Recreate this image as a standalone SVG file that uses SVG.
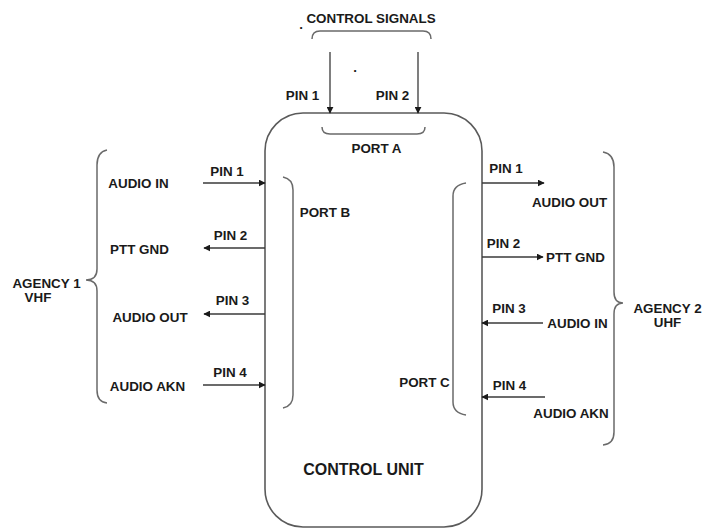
<svg xmlns="http://www.w3.org/2000/svg" width="703" height="530" viewBox="0 0 703 530">
<style>
text{font-family:"Liberation Sans",Arial,sans-serif;font-weight:bold;font-size:13.4px;fill:#1a1a1a;text-anchor:middle}
.big{font-size:16px}
.brace{fill:none;stroke:#6a6a6a;stroke-width:1.5}
.wire{fill:none;stroke:#3a3a3a;stroke-width:1.3;marker-end:url(#ah)}
.box{fill:#fff;stroke:#5a5a5a;stroke-width:1.6}
</style>
<defs>
<marker id="ah" viewBox="0 0 10 10" refX="9" refY="5" markerWidth="7" markerHeight="7" markerUnits="userSpaceOnUse" orient="auto">
<path d="M0,0 L10,5 L0,10 Z" fill="#1a1a1a"/>
</marker>
</defs>
<rect width="703" height="530" fill="#fff"/>

<g id="control-unit">
<rect class="box" x="265" y="113" width="217" height="414" rx="38" ry="38"/>
<text class="big" x="363.5" y="475">CONTROL UNIT</text>
</g>

<g id="port-a">
<path class="brace" d="M322,127 Q322,134 330,134 L417,134 Q425,134 425,127"/>
<text x="376.5" y="153">PORT A</text>
</g>

<g id="port-b">
<path class="brace" d="M283,177 Q293,179 293,190 L293,395 Q293,406 283,408"/>
<text x="325" y="217">PORT B</text>
</g>

<g id="port-c">
<path class="brace" d="M466,183 Q453,185 453,196 L453,402 Q453,413 466,415"/>
<text x="424.5" y="387">PORT C</text>
</g>

<g id="control-signals">
<path class="brace" d="M312,39 Q312,31 320,31 L423,31 Q431,31 431,39"/>
<text x="371" y="23">CONTROL SIGNALS</text>
<text x="301" y="29">.</text>
<text x="355" y="72">.</text>
</g>

<g id="agency-1">
<path class="brace" d="M107,150 Q97,152 97,165 L97,269 Q97,280 86,280 Q97,280 97,291 L97,390 Q97,402 107,403"/>
<text x="46.5" y="288">AGENCY 1</text>
<text x="38" y="302">VHF</text>
<text x="138.5" y="188">AUDIO IN</text>
<text x="139.5" y="254">PTT GND</text>
<text x="150" y="322">AUDIO OUT</text>
<text x="147.5" y="391">AUDIO AKN</text>
</g>

<g id="agency-2">
<path class="brace" d="M603,152 Q614,154 614,167 L614,292 Q614,303 623,303 Q614,303 614,314 L614,432 Q614,444 603,445"/>
<text x="667.5" y="313">AGENCY 2</text>
<text x="667.5" y="327">UHF</text>
<text x="569.5" y="207">AUDIO OUT</text>
<text x="575.5" y="262">PTT GND</text>
<text x="577.5" y="328">AUDIO IN</text>
<text x="571" y="418">AUDIO AKN</text>
</g>

<g id="connectors">
<line class="wire" x1="330" y1="52" x2="330" y2="113"/>
<line class="wire" x1="418" y1="52" x2="418" y2="113"/>
<line class="wire" x1="203" y1="183" x2="265" y2="183"/>
<line class="wire" x1="265" y1="248" x2="204" y2="248"/>
<line class="wire" x1="265" y1="314" x2="204" y2="314"/>
<line class="wire" x1="203" y1="385" x2="265" y2="385"/>
<line class="wire" x1="482" y1="183" x2="544" y2="183"/>
<line class="wire" x1="482" y1="257" x2="543" y2="257"/>
<line class="wire" x1="543" y1="323" x2="482" y2="323"/>
<line class="wire" x1="545" y1="397" x2="482" y2="397"/>
</g>

<g id="pin-labels">
<text x="302.5" y="100">PIN 1</text>
<text x="392.5" y="100">PIN 2</text>
<text x="227" y="176">PIN 1</text>
<text x="230.5" y="240">PIN 2</text>
<text x="232.5" y="305">PIN 3</text>
<text x="230" y="377">PIN 4</text>
<text x="506" y="173">PIN 1</text>
<text x="503.5" y="248">PIN 2</text>
<text x="509" y="313">PIN 3</text>
<text x="509.5" y="390">PIN 4</text>
</g>
</svg>
